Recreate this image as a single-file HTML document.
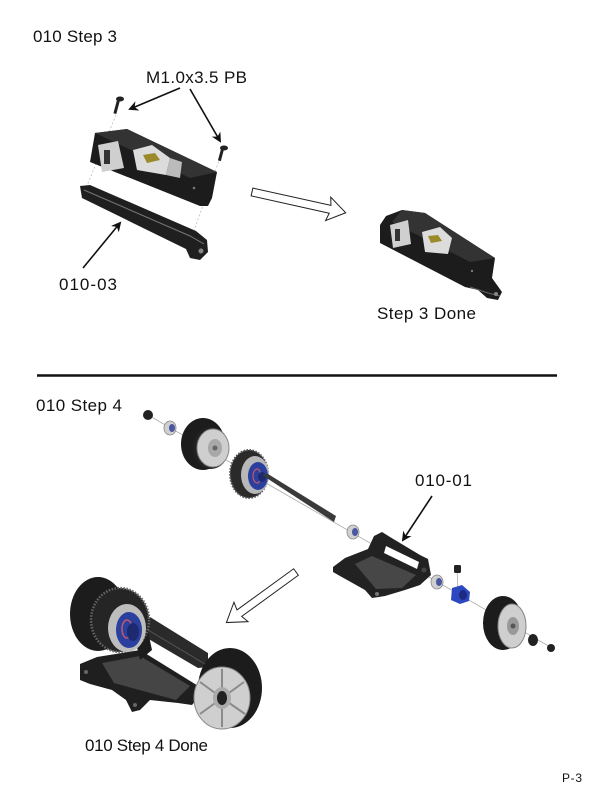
<!DOCTYPE html>
<html><head><meta charset="utf-8"><style>
html,body{margin:0;padding:0;background:#fff;}
svg{display:block;}
text{font-family:"Liberation Sans",sans-serif;fill:#111;}
</style></head><body>
<svg width="600" height="791" viewBox="0 0 600 791" xmlns="http://www.w3.org/2000/svg">
<defs>
<marker id="ah" markerWidth="10" markerHeight="10" refX="8" refY="5" orient="auto" markerUnits="userSpaceOnUse">
<path d="M0,0 L10,5 L0,10 L3,5 z" fill="#111"/>
</marker>
</defs>

<!-- Titles -->
<text x="33" y="42" font-size="17" textLength="84">010 Step 3</text>
<text x="36" y="411" font-size="17" textLength="86">010 Step 4</text>
<text x="562" y="782" font-size="12" textLength="20">P-3</text>
<line x1="37" y1="375.5" x2="557" y2="375.5" stroke="#111" stroke-width="2.5"/>

<!-- ===== STEP 3 ===== -->
<text x="146" y="83" font-size="17" textLength="101">M1.0x3.5 PB</text>
<line x1="180" y1="88" x2="130" y2="109" stroke="#111" stroke-width="1.6" marker-end="url(#ah)"/>
<line x1="190" y1="89" x2="220" y2="141" stroke="#111" stroke-width="1.6" marker-end="url(#ah)"/>

<line x1="116" y1="115" x2="86" y2="188" stroke="#bbb" stroke-width="0.8" stroke-dasharray="2,2"/>
<line x1="220" y1="158" x2="192" y2="236" stroke="#bbb" stroke-width="0.8" stroke-dasharray="2,2"/>

<g fill="#222">
<ellipse cx="120" cy="99" rx="4" ry="2.5"/>
<rect x="117" y="100" width="3" height="14" transform="rotate(15 118 100)"/>
<ellipse cx="224" cy="148" rx="4" ry="2.5"/>
<rect x="221" y="149" width="3" height="12" transform="rotate(15 222 149)"/>
</g>

<!-- servo box -->
<polygon points="95,133 127,129 217,172 212,198 208,206 200,206 90,162" fill="#1c1c1c"/>
<polygon points="95,133 127,129 217,172 190,178" fill="#333"/>
<polygon points="98,145 118,141 124,168 102,172" fill="#cfcfcf"/>
<rect x="104" y="150" width="6" height="14" fill="#333"/>
<polygon points="133,150 152,145 170,158 166,175 137,170" fill="#dcdcdc"/>
<polygon points="143,155 155,153 160,160 147,163" fill="#9a8a2a"/>
<polygon points="170,158 182,162 180,178 166,175" fill="#bbb"/>
<circle cx="194" cy="188" r="1.3" fill="#777"/>

<!-- plate 010-03 -->
<polygon points="80,186 90,185 196,231 207,240 208,252 200,260 190,258 186,249 82,198" fill="#1f1f1f"/>
<polyline points="84,190 190,236 204,244" fill="none" stroke="#777" stroke-width="1"/>
<circle cx="201" cy="251" r="2.5" fill="#888"/>

<text x="59" y="290" font-size="17" textLength="58">010-03</text>
<line x1="83" y1="268" x2="120" y2="223" stroke="#111" stroke-width="1.6" marker-end="url(#ah)"/>

<!-- hollow arrow 1 -->
<g transform="translate(252,192) rotate(12.5)">
<polygon points="0,-4 80,-4 78,-12 96,0 78,12 80,4 0,4" fill="#fff" stroke="#222" stroke-width="1"/>
</g>

<!-- Step 3 Done -->
<polygon points="386,216 402,210 425,213 495,258 492,278 502,292 498,300 487,298 478,290 465,287 380,243 380,225" fill="#1c1c1c"/>
<polygon points="402,210 425,213 495,258 470,262 392,222" fill="#333"/>
<polygon points="390,225 408,220 411,244 393,248" fill="#cfcfcf"/>
<rect x="395" y="229" width="5" height="12" fill="#333"/>
<polygon points="422,232 440,227 452,238 448,254 425,252" fill="#dcdcdc"/>
<polygon points="428,236 438,235 442,241 431,243" fill="#9a8a2a"/>
<polyline points="470,287 488,293 500,296" fill="none" stroke="#666" stroke-width="1"/>
<circle cx="496" cy="294" r="2" fill="#888"/>
<circle cx="472" cy="271" r="1.2" fill="#777"/>
<text x="377" y="319" font-size="17" textLength="99">Step 3 Done</text>

<!-- ===== STEP 4 ===== -->
<line x1="148" y1="415" x2="552" y2="648" stroke="#aaa" stroke-width="0.8"/>
<line x1="457" y1="570" x2="458" y2="590" stroke="#aaa" stroke-width="0.8"/>

<circle cx="148" cy="415" r="5" fill="#222"/>
<ellipse cx="170" cy="428" rx="6" ry="7" fill="#d0d0d0" stroke="#888" stroke-width="0.8"/>
<ellipse cx="172" cy="428" rx="3" ry="4" fill="#4a56a0"/>

<!-- left wheel -->
<ellipse cx="203" cy="444" rx="22" ry="26" fill="#1c1c1c"/>
<ellipse cx="211" cy="448" rx="18" ry="21" fill="#222"/>
<ellipse cx="213" cy="448" rx="16" ry="19" fill="#cfcfcf" stroke="#888" stroke-width="1"/>
<ellipse cx="215" cy="448" rx="7" ry="9" fill="#a8a8a8"/>
<circle cx="215" cy="448" r="2.5" fill="#666"/>

<!-- gear -->
<ellipse cx="249" cy="474" rx="19" ry="24" fill="#2a2a2a" stroke="#555" stroke-width="2" stroke-dasharray="1.5,1.5"/>
<ellipse cx="255" cy="475" rx="14" ry="19" fill="#b8b8b8"/>
<ellipse cx="258" cy="476" rx="10" ry="14" fill="#2a3f9e"/>
<ellipse cx="257" cy="476" rx="4" ry="7" fill="none" stroke="#c05a6a" stroke-width="1.2"/>
<ellipse cx="262" cy="477" rx="4" ry="5" fill="#1d2a70"/>

<polygon points="262,475 268,474 336,516 334,522" fill="#3a3a3a"/>

<ellipse cx="353" cy="532" rx="6" ry="7" fill="#d0d0d0" stroke="#888" stroke-width="0.8"/>
<ellipse cx="355" cy="532" rx="3" ry="4" fill="#4a56a0"/>

<text x="415" y="486" font-size="17" textLength="57">010-01</text>
<line x1="432" y1="496" x2="403" y2="540" stroke="#111" stroke-width="1.6" marker-end="url(#ah)"/>

<!-- frame 010-01 -->
<polygon points="333,567 345,558 368,549 374,536 382,532 390,537 420,555 428,559 431,575 420,585 405,590 385,596 372,598 365,590 340,576 333,572" fill="#222"/>
<polygon points="355,564 372,556 416,575 402,588 376,589" fill="#474747"/>
<polygon points="386,546 419,562 417,569 384,553" fill="#fff"/>
<circle cx="377" cy="594" r="2" fill="#777"/>
<circle cx="424" cy="570" r="2.5" fill="#444"/>

<ellipse cx="437" cy="582" rx="6" ry="7" fill="#d0d0d0" stroke="#888" stroke-width="0.8"/>
<ellipse cx="439" cy="582" rx="3" ry="4" fill="#4a56a0"/>
<rect x="454" y="565" width="7" height="8" rx="1.5" fill="#222"/>
<polygon points="452,588 462,585 470,592 469,601 460,604 451,600" fill="#2b48c0"/>
<ellipse cx="463" cy="595" rx="4" ry="5" fill="#1d2a80"/>

<ellipse cx="503" cy="623" rx="20" ry="27" fill="#1c1c1c"/>
<ellipse cx="512" cy="626" rx="14" ry="22" fill="#cfcfcf" stroke="#888" stroke-width="1"/>
<ellipse cx="513" cy="626" rx="6" ry="9" fill="#999"/>
<circle cx="513" cy="626" r="2.5" fill="#555"/>

<ellipse cx="533" cy="640" rx="5" ry="6" fill="#222"/>
<circle cx="551" cy="648" r="4" fill="#222"/>

<!-- hollow arrow 2 -->
<g transform="translate(296,572) rotate(144)">
<polygon points="0,-4 70,-4 68,-12 86,0 68,12 70,4 0,4" fill="#fff" stroke="#222" stroke-width="1"/>
</g>

<!-- Step 4 Done assembly -->
<!-- frame plate -->
<polygon points="80,664 97,657 140,650 195,684 205,690 192,705 178,703 150,700 140,710 132,712 126,700 112,690 90,684 80,680" fill="#1f1f1f"/>
<polygon points="102,663 140,656 190,686 176,700 114,683" fill="#454545"/>
<circle cx="86" cy="672" r="2" fill="#666"/>
<circle cx="135" cy="705" r="2" fill="#666"/>
<!-- axle housing -->
<polygon points="140,622 150,617 208,653 208,667 198,668 140,634" fill="#2a2a2a"/>
<polygon points="148,630 205,664" stroke="#555" stroke-width="1"/>
<polygon points="133,630 146,622 152,650 140,660" fill="#1c1c1c"/>
<!-- big left wheel -->
<ellipse cx="98" cy="614" rx="28" ry="37" fill="#1c1c1c"/>
<ellipse cx="120" cy="620" rx="29" ry="32" fill="#252525" stroke="#666" stroke-width="2.5" stroke-dasharray="1.5,1.5"/>
<ellipse cx="127" cy="628" rx="19" ry="24" fill="#bdbdbd"/>
<ellipse cx="129" cy="630" rx="13" ry="18" fill="#2a3f9e"/>
<ellipse cx="127" cy="629" rx="5" ry="9" fill="none" stroke="#c05a6a" stroke-width="1.5"/>
<ellipse cx="133" cy="632" rx="6" ry="9" fill="#1d2a70"/>
<!-- right wheel -->
<ellipse cx="230" cy="688" rx="32" ry="40" fill="#1c1c1c"/>
<ellipse cx="222" cy="698" rx="28" ry="31" fill="#cfcfcf" stroke="#888" stroke-width="1"/>
<g stroke="#8a8a8a" stroke-width="2">
<line x1="222" y1="698" x2="222" y2="669"/><line x1="222" y1="698" x2="244" y2="682"/>
<line x1="222" y1="698" x2="245" y2="714"/><line x1="222" y1="698" x2="222" y2="727"/>
<line x1="222" y1="698" x2="200" y2="714"/><line x1="222" y1="698" x2="200" y2="682"/>
</g>
<ellipse cx="222" cy="698" rx="9" ry="11" fill="#aaa"/>
<ellipse cx="222" cy="698" rx="5" ry="7" fill="#222"/>

<text x="85" y="751" font-size="17" textLength="123">010 Step 4 Done</text>
</svg>
</body></html>
